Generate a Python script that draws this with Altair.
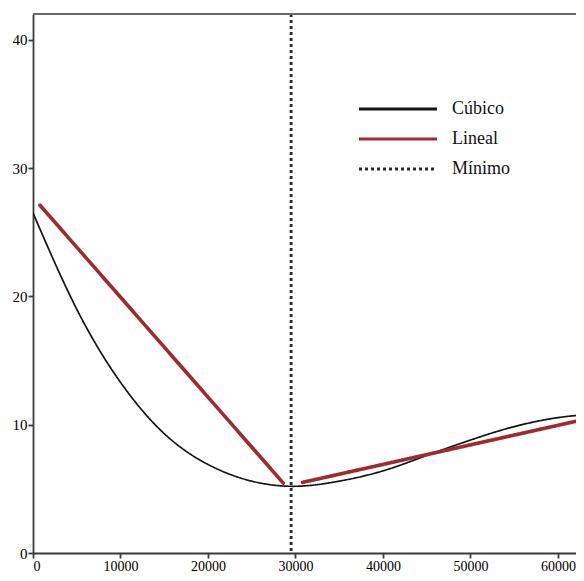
import altair as alt
import pandas as pd

# Values
cubic_x = [0, 5000, 10000, 15000, 20000, 25000, 30000, 35000, 40000, 45000, 50000, 55000, 60000, 64000]
cubic_y = [26.5, 19.0, 13.3, 9.3, 6.9, 5.6, 5.2, 5.6, 6.4, 7.6, 8.8, 9.85, 10.55, 10.8]

lin1_x = [800, 28600]
lin1_y = [27.1, 5.45]
lin2_x = [30800, 62300]
lin2_y = [5.5, 10.3]

min_x = [29500]

series = ["Cúbico", "Lineal", "Mínimo"]
colors = ["#141414", "#9e2a32", "#2a2a2a"]
dashes = [[1, 0], [1, 0], [3, 3]]

x_ticks = [0, 10000, 20000, 30000, 40000, 50000, 60000]
y_ticks = [0, 10, 20, 30, 40]

W, H = 543, 539

cubic_df = pd.DataFrame({"x": cubic_x, "y": cubic_y, "serie": "Cúbico", "seg": "c"})
lin_df = pd.DataFrame({
    "x": lin1_x + lin2_x,
    "y": lin1_y + lin2_y,
    "serie": "Lineal",
    "seg": ["a", "a", "b", "b"],
})
min_df = pd.DataFrame({"x": min_x, "serie": "Mínimo"})

xs = alt.Scale(domain=[0, 62060], nice=False)
ys = alt.Scale(domain=[0, 42.0], nice=False)

X = alt.X("x:Q", scale=xs, axis=alt.Axis(values=x_ticks, title=None, format="d", labelFontSize=14))
Y = alt.Y("y:Q", scale=ys, axis=alt.Axis(values=y_ticks, title=None, labelFontSize=15))

color = alt.Color("serie:N", scale=alt.Scale(domain=series, range=colors), title=None)
dash = alt.StrokeDash("serie:N", scale=alt.Scale(domain=series, range=dashes), title=None)

cubic = alt.Chart(cubic_df).mark_line(strokeWidth=1.7, interpolate="natural", clip=True).encode(
    x=X, y=Y, color=color, strokeDash=dash, detail="seg:N"
)
lineal = alt.Chart(lin_df).mark_line(strokeWidth=3.6, strokeCap="round", clip=True).encode(
    x=X, y=Y, color=color, strokeDash=dash, detail="seg:N"
)
minimo = alt.Chart(min_df).mark_rule(strokeWidth=2.8).encode(
    x=alt.X("x:Q", scale=xs), color=color, strokeDash=dash
)
top_border = alt.Chart(min_df).mark_rule(color="#6a6a6a", strokeWidth=2).encode(
    x=alt.value(0), x2=alt.value(W), y=alt.value(0)
)

chart = (
    alt.layer(cubic, lineal, minimo, top_border)
    .properties(
        width=W,
        height=H,
        autosize=alt.AutoSizeParams(type="none"),
        padding={"left": 25, "top": 6, "right": 0, "bottom": 20},
        background="white",
    )
    .configure_view(stroke=None)
    .configure_axis(
        grid=False,
        domainColor="#3a3a3a",
        domainWidth=1.8,
        tickColor="#3a3a3a",
        tickWidth=1.8,
        tickSize=5,
        labelFont="Liberation Serif",
        labelColor="#000000",
        labelPadding=1,
    )
    .configure_legend(
        orient="none",
        legendX=324,
        legendY=83,
        symbolType="stroke",
        symbolSize=6084,
        symbolStrokeWidth=3.2,
        clipHeight=24,
        labelFont="Liberation Serif",
        labelFontSize=18,
        labelColor="#111111",
        labelOffset=13,
        rowPadding=6,
    )
)

chart.save("out.html", embed_options={"renderer": "svg", "actions": False})
